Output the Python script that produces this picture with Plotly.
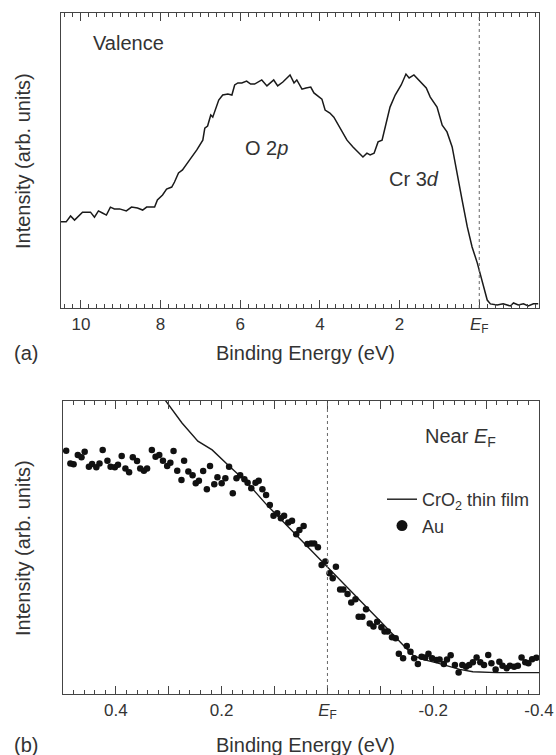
import plotly.graph_objects as go
from plotly.subplots import make_subplots

# ---------------- data ----------------
# (a) valence band spectrum
valence_energy = [10.52, 10.37, 10.26, 10.16, 9.96, 9.76, 9.66, 9.56, 9.46, 9.36,
                  9.26, 9.16, 9.03, 8.86, 8.73, 8.58, 8.45, 8.35, 8.15, 8.08,
                  7.95, 7.85, 7.72, 7.65, 7.55, 7.45, 7.27, 7.09, 6.94, 6.89,
                  6.82, 6.74, 6.69, 6.62, 6.54, 6.44, 6.31, 6.21, 6.14, 6.06,
                  5.96, 5.84, 5.74, 5.64, 5.46, 5.33,
                  5.16, 5.06, 4.93, 4.75, 4.65, 4.58, 4.45, 4.35, 4.23, 4.15,
                  3.95, 3.87, 3.75, 3.65, 3.50, 3.32, 3.17, 2.92, 2.82, 2.74,
                  2.64, 2.54, 2.44, 2.36, 2.24, 2.11, 1.96, 1.84, 1.76, 1.64,
                  1.48, 1.33, 1.23, 1.06, 0.93, 0.81, 0.68, 0.55, 0.43, 0.30,
                  0.18, 0.05, -0.08, -0.20, -0.28, -0.45, -0.60, -0.78, -0.86, -0.98,
                  -1.11, -1.23, -1.36, -1.48]
valence_intensity = [29.2, 29.2, 31.2, 29.8, 32.5, 32.5, 30.8, 32.9, 32.2, 31.5,
                     34.2, 33.6, 33.6, 32.9, 34.2, 33.9, 33.2, 34.2, 34.2, 36.6,
                     38.3, 40.3, 41.0, 42.7, 45.8, 46.8, 50.2, 53.6, 56.9, 61.0,
                     61.7, 65.4, 64.7, 67.1, 70.5, 72.2, 72.5, 72.2, 75.6, 76.3,
                     76.3, 76.9, 75.9, 75.9, 77.3, 75.3,
                     77.3, 75.3, 76.6, 79.0, 76.3, 77.3, 74.2, 74.6, 74.9, 72.9,
                     70.8, 67.1, 66.1, 64.7, 61.0, 56.9, 54.6, 51.2, 52.5, 51.9,
                     52.5, 56.3, 56.9, 61.4, 68.1, 72.2, 75.6, 79.3, 78.0, 79.0,
                     76.6, 74.6, 71.5, 68.1, 62.0, 59.7, 54.6, 45.8, 36.6, 27.5,
                     20.7, 15.3, 8.5, 2.7, 1.4, 1.0, 1.4, 0.7, 1.7, 1.0,
                     1.4, 0.7, 1.4, 1.4]

# (b) near-EF: CrO2 thin film (line)
film_energy = [0.328, 0.305, 0.275, 0.245, 0.218, 0.186, 0.154, 0.116, 0.047, 0.0,
               -0.047, -0.099, -0.142, -0.163, -0.180, -0.207, -0.250, -0.275, -0.320, -0.400]
film_intensity = [105.5, 100.0, 92.5, 86.3, 83.3, 77.8, 72.5, 64.8, 52.1, 43.3,
                  34.5, 25.0, 16.9, 13.1, 11.8, 10.6, 8.4, 7.6, 7.3, 7.3]

# (b) near-EF: Au reference (dots)
au_energy = [0.494, 0.486, 0.480, 0.472, 0.465, 0.459, 0.451, 0.445, 0.437, 0.431,
             0.425, 0.416, 0.410, 0.402, 0.396, 0.389, 0.382, 0.375, 0.368, 0.360,
             0.354, 0.347, 0.341, 0.332, 0.325, 0.318, 0.311, 0.303, 0.297, 0.291,
             0.284, 0.276, 0.271, 0.263, 0.255, 0.249,
             0.243, 0.235, 0.228, 0.222, 0.214, 0.208, 0.200, 0.193, 0.186, 0.179,
             0.172, 0.165, 0.157, 0.151, 0.144, 0.136, 0.130, 0.123, 0.116, 0.109,
             0.102, 0.095, 0.088, 0.082, 0.074, 0.067, 0.059, 0.053, 0.045, 0.038,
             0.031, 0.025, 0.018, 0.011, 0.004,
             -0.004, -0.010, -0.016, -0.024, -0.030, -0.038, -0.045, -0.053, -0.059, -0.066,
             -0.073, -0.080, -0.087, -0.094, -0.102, -0.108, -0.114, -0.122, -0.129, -0.135,
             -0.143, -0.150, -0.157, -0.164, -0.171, -0.178, -0.185, -0.191, -0.198, -0.206,
             -0.212, -0.220, -0.226, -0.233, -0.241,
             -0.248, -0.255, -0.262, -0.268, -0.275, -0.282, -0.289, -0.296, -0.304, -0.310,
             -0.318, -0.325, -0.331, -0.339, -0.345, -0.353, -0.360, -0.367, -0.374, -0.380,
             -0.387, -0.395]
au_intensity = [83.0, 78.7, 78.4, 81.6, 80.8, 82.7, 77.6, 78.5, 77.4, 78.7,
                83.3, 79.6, 77.6, 77.4, 78.2, 81.2, 77.0, 75.7, 80.8, 79.5,
                77.0, 76.2, 77.0, 83.3, 81.0, 81.6, 79.6, 77.8, 78.9, 82.9,
                76.2, 73.0, 79.6, 75.9, 74.7, 71.9,
                72.8, 76.1, 69.9, 77.8, 71.6, 74.0, 71.9, 73.6, 77.6, 68.5,
                73.6, 74.7, 73.3, 72.1, 70.2, 72.1, 72.8, 69.9, 67.9, 64.5,
                60.8, 61.7, 60.0, 60.8, 58.5, 59.1, 54.5, 56.0, 57.3, 51.2,
                51.4, 51.4, 50.1, 44.0, 45.2,
                41.2, 39.5, 43.4, 35.7, 35.7, 34.1, 31.2, 32.3, 26.4, 26.4,
                28.9, 24.1, 23.0, 24.7, 22.8, 21.3, 21.3, 19.4, 19.0, 13.7,
                12.2, 16.4, 14.4, 12.2, 10.2, 12.7, 12.5, 13.7, 12.2, 11.6,
                11.8, 10.2, 11.8, 13.2, 9.9,
                7.3, 9.9, 9.3, 9.9, 10.8, 12.5, 10.8, 9.9, 13.3, 10.5,
                8.4, 11.0, 9.6, 8.8, 9.6, 9.3, 9.6, 12.5, 10.8, 10.5,
                11.9, 12.4]

# tick label replacements (Fermi level and ASCII minus)
EF = "<i>E</i><sub>F</sub>"
top_labelalias = {"0": EF}
bot_labelalias = {"0": EF, "\u22120.2": "-0.2", "\u22120.4": "-0.4"}

# ---------------- figure ----------------
W, H = 556, 755
FONT = "Liberation Sans, Arial, Helvetica, sans-serif"
TXT = "#333333"
AX = "#444444"
INK = "#1a1a1a"

fig = make_subplots(rows=2, cols=1)

fig.add_trace(go.Scatter(x=valence_energy, y=valence_intensity, mode="lines",
                         line=dict(color=INK, width=1.5), showlegend=False),
              row=1, col=1)
fig.add_trace(go.Scatter(x=film_energy, y=film_intensity, mode="lines",
                         line=dict(color=INK, width=1.4),
                         name="CrO<sub>2</sub> thin film"),
              row=2, col=1)
fig.add_trace(go.Scatter(x=au_energy, y=au_intensity, mode="markers",
                         marker=dict(color="#111111", size=6.5),
                         name="Au", showlegend=False),
              row=2, col=1)
# legend entry for Au with a larger symbol
fig.add_trace(go.Scatter(x=[None], y=[None], mode="markers",
                         marker=dict(color="#111111", size=11), name="Au"),
              row=2, col=1)

px2x = lambda p: p / W
px2y = lambda p: 1 - p / H

common_x = dict(showline=True, linecolor=AX, linewidth=1.3, mirror="ticks",
                ticks="inside", ticklen=8, tickwidth=1, tickcolor=AX,
                showgrid=False, zeroline=False, automargin=False,
                tickmode="linear", tick0=0, layer="above traces",
                tickfont=dict(size=17, color=TXT, family=FONT))
common_y = dict(showline=True, linecolor=AX, linewidth=1.3, mirror=True,
                ticks="", showticklabels=False, showgrid=False, zeroline=False,
                automargin=False, range=[0, 100], fixedrange=True)

fig.update_layout(
    xaxis=dict(domain=[px2x(61), px2x(539)], range=[10.5, -1.5],
               dtick=2, labelalias=top_labelalias,
               minor=dict(dtick=0.2, ticks="inside", ticklen=4, tickcolor=AX, tickwidth=1),
               **common_x),
    yaxis=dict(domain=[px2y(308), px2y(13)], **common_y),
    xaxis2=dict(domain=[px2x(63), px2x(539)], range=[0.5, -0.4],
                dtick=0.1, ticklabelstep=2, labelalias=bot_labelalias,
                minor=dict(dtick=0.02, ticks="inside", ticklen=4, tickcolor=AX, tickwidth=1),
                **common_x),
    yaxis2=dict(domain=[px2y(694), px2y(401)], **common_y),
)

# Fermi level markers
for r in (1, 2):
    fig.add_vline(x=0, line=dict(color="#666666", width=1, dash="dot"), row=r, col=1)

ann = []
def A(text, x, y, xref="paper", yref="paper", xanchor="left", size=20, yanchor="middle"):
    ann.append(dict(text=text, x=x, y=y, xref=xref, yref=yref, xanchor=xanchor,
                    yanchor=yanchor, showarrow=False,
                    font=dict(size=size, color=TXT, family=FONT)))

# axis titles and panel tags
A("Binding Energy (eV)", px2x(305), px2y(353), xanchor="center")
A("Binding Energy (eV)", px2x(305), px2y(745), xanchor="center")
A("(a)", px2x(12), px2y(353))
A("(b)", px2x(12), px2y(745))
for yc in (161, 548):
    ann.append(dict(text="Intensity (arb. units)", x=px2x(23), y=px2y(yc),
                    xref="paper", yref="paper", xanchor="center", yanchor="middle",
                    textangle=-90, showarrow=False,
                    font=dict(size=20, color=TXT, family=FONT)))

# in-plot labels
A("Valence", 9.74, 89.8, xref="x", yref="y")
A("O 2<i>p</i>", 5.94, 54.2, xref="x", yref="y")
A("Cr 3<i>d</i>", 2.31, 43.7, xref="x", yref="y")
A("Near " + EF, -0.180, 87.7, xref="x2", yref="y2")

fig.update_layout(
    annotations=ann,
    width=W, height=H,
    margin=dict(l=0, r=0, t=0, b=0),
    paper_bgcolor="white", plot_bgcolor="white",
    font=dict(family=FONT, color=TXT),
    legend=dict(x=px2x(382), y=px2y(481), xanchor="left", yanchor="top",
                bgcolor="rgba(0,0,0,0)", borderwidth=0,
                font=dict(size=18, color=TXT, family=FONT), tracegroupgap=0,
                itemwidth=30),
)

fig.write_html("out.html")
